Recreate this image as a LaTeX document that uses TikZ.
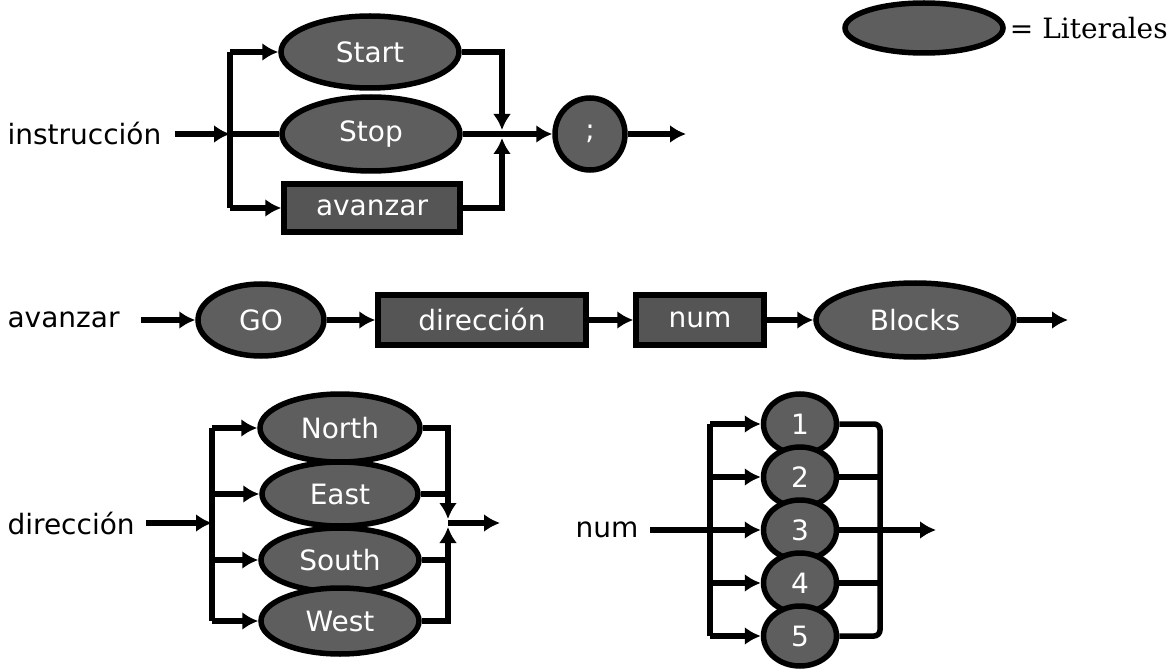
\documentclass[tikz,border=0pt]{standalone}
\usepackage{fontspec}
\setmainfont{DejaVu Sans}
\newfontfamily\legendfont{DejaVu Serif}
\usepackage{tikz}
\usetikzlibrary{arrows.meta,positioning,shapes.geometric,calc}
\definecolor{litgray}{HTML}{5E5E5E}
\definecolor{rulegray}{HTML}{555555}

\begin{document}
\begin{tikzpicture}[x=1pt, y=-1pt, every node/.style={font=\fontsize{28}{30}\selectfont}, literal/.style={ellipse, draw, line width=5.5pt, fill=litgray, text=white, inner sep=0pt}, rulebox/.style={rectangle, draw, line width=5.5pt, fill=rulegray, text=white, inner sep=0pt}, line/.style={line width=5.5pt}, arr/.style={line, -{Latex[length=16pt,width=18pt]}}]
\useasboundingbox (0,0) rectangle (1173,671);
\node[literal, minimum width=158pt, minimum height=50pt] (legend) at (924,28) {};
\node[anchor=west, inner sep=1pt, font=\legendfont\fontsize{28}{30}\selectfont] (legtext) at ([xshift=3pt]legend.east) {= Literales};
\node[anchor=west] (instr) at (4,134) {instrucción};
\node[literal, minimum width=178pt, minimum height=72pt] (start) at (370,52) {Start};
\node[literal, minimum width=178pt, minimum height=74pt] (stop) at (371,134) {Stop};
\node[rulebox, minimum width=176pt, minimum height=48pt] (avz) at (372,208) {avanzar};
\node[literal, minimum width=70pt, minimum height=72pt] (semi) at (590,134) {;};
\coordinate (inA) at (230,134);
\coordinate (outA) at (502,134);
\coordinate (endA) at (686,134);
\draw[arr, shorten <=10pt] (instr) -- (inA);
\draw[line] (inA |- start) -- (inA |- avz);
\draw[arr] (inA |- start) -- (start);
\draw[line] (inA) -- (stop);
\draw[arr] (inA |- avz) -- (avz);
\draw[arr] (start) -| ([yshift=4pt]outA);
\draw[arr] (avz) -| ([yshift=-4pt]outA);
\draw[arr] (stop) -- (semi);
\draw[arr] (semi) -- (endA);
\node[anchor=west] (avzlab) at (4,320) {avanzar};
\node[literal, minimum width=126pt, minimum height=72pt] (go) at (261,320) {GO};
\node[rulebox, minimum width=208pt, minimum height=50pt] (dir) at (482,320) {dirección};
\node[rulebox, minimum width=128pt, minimum height=50pt] (num) at (700,320) {num};
\node[literal, minimum width=198pt, minimum height=74pt] (blocks) at (915,320) {Blocks};
\coordinate (endB) at (1068,320);
\draw[arr, shorten <=18pt] (avzlab) -- (go);
\draw[arr] (go) -- (dir);
\draw[arr] (dir) -- (num);
\draw[arr] (num) -- (blocks);
\draw[arr] (blocks) -- (endB);
\node[anchor=west] (dirlab) at (4,523) {dirección};
\node[literal, minimum width=160pt, minimum height=68pt] (north) at (340,428) {North};
\node[literal, minimum width=156pt, minimum height=64pt] (east) at (340,494) {East};
\node[literal, minimum width=158pt, minimum height=64pt] (south) at (340,560) {South};
\node[literal, minimum width=158pt, minimum height=66pt] (west) at (340,621) {West};
\coordinate (inC) at (212,523);
\coordinate (outC) at (448,523);
\coordinate (endC) at (500,523);
\draw[arr, shorten <=8pt] (dirlab) -- (inC);
\draw[line] (inC |- north) -- (inC |- west);
\draw[arr] (inC |- north) -- (north);
\draw[arr] (inC |- east) -- (east);
\draw[arr] (inC |- south) -- (south);
\draw[arr] (inC |- west) -- (west);
\draw[arr] (north) -| ([yshift=4pt]outC);
\draw[line] (east) -- (east -| outC);
\draw[line] (south) -- (south -| outC);
\draw[arr] (west) -| ([yshift=-4pt]outC);
\draw[arr] (outC) -- (endC);
\node[anchor=west] (numlab) at (572,530) {num};
\node[literal, minimum width=73pt, minimum height=60pt] (one) at (800,424) {1};
\node[literal, minimum width=73pt, minimum height=60pt] (two) at (800,477) {2};
\node[literal, minimum width=73pt, minimum height=60pt] (three) at (800,530) {3};
\node[literal, minimum width=73pt, minimum height=60pt] (four) at (800,583) {4};
\node[literal, minimum width=73pt, minimum height=60pt] (five) at (800,636) {5};
\coordinate (inD) at (710,530);
\coordinate (outD) at (880,530);
\coordinate (endD) at (936,530);
\draw[line] (inD |- one) -- (inD |- five);
\draw[line, rounded corners=6pt] (one) -| (outD |- five) -- (five);
\draw[arr, shorten <=8pt] (numlab) -- (three);
\draw[arr] (inD |- one) -- (one);
\draw[arr] (inD |- two) -- (two);
\draw[arr] (inD |- four) -- (four);
\draw[arr] (inD |- five) -- (five);
\draw[line] (two) -- (two -| outD);
\draw[line] (four) -- (four -| outD);
\draw[arr] (three) -- (endD);
\end{tikzpicture}
\end{document}
